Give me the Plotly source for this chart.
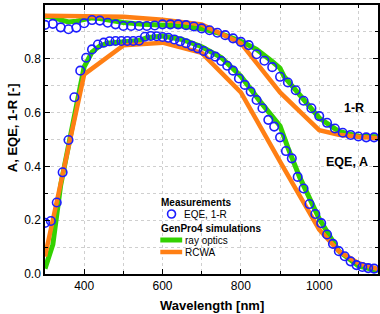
import plotly.graph_objects as go

# Measurements
eqe_wl = list(range(300, 1141, 15))
eqe_meas = [0.190, 0.197, 0.266, 0.378, 0.498, 0.657, 0.756, 0.804, 0.835, 0.853,
            0.860, 0.865, 0.866, 0.866, 0.866, 0.866, 0.867, 0.882, 0.885, 0.884,
            0.881, 0.878, 0.872, 0.865, 0.858, 0.848, 0.839, 0.829, 0.817, 0.808,
            0.792, 0.774, 0.756, 0.727, 0.703, 0.678, 0.647, 0.616, 0.573, 0.548,
            0.508, 0.457, 0.430, 0.361, 0.318, 0.260, 0.223, 0.189, 0.147, 0.112,
            0.085, 0.066, 0.047, 0.033, 0.026, 0.022, 0.020]
r_wl = list(range(300, 1141, 20))
one_minus_r_meas = [0.926, 0.930, 0.917, 0.910, 0.916, 0.932, 0.944, 0.942, 0.934, 0.928,
                    0.922, 0.922, 0.922, 0.922, 0.924, 0.928, 0.928, 0.928, 0.925, 0.920,
                    0.913, 0.906, 0.897, 0.888, 0.876, 0.863, 0.851, 0.817, 0.793, 0.769,
                    0.733, 0.712, 0.683, 0.644, 0.616, 0.587, 0.562, 0.541, 0.525, 0.517,
                    0.511, 0.508, 0.508, 0.510]

# GenPro4 ray optics
ray_wl_a = [300, 320, 340, 360, 380, 400, 420, 440, 460, 500, 540, 560, 600, 650, 700,
            750, 800, 850, 880, 900, 920, 950, 1000, 1050, 1100, 1150]
ray_a = [0.02, 0.11, 0.33, 0.47, 0.62, 0.77, 0.825, 0.848, 0.858, 0.865, 0.868, 0.878,
         0.885, 0.872, 0.845, 0.805, 0.735, 0.64, 0.59, 0.55, 0.47, 0.36, 0.205, 0.085,
         0.03, 0.012]
ray_wl_r = [300, 320, 340, 360, 380, 400, 420, 440, 460, 480, 500, 550, 600, 650, 700,
            750, 800, 840, 880, 900, 910, 950, 1000, 1050, 1100, 1150]
ray_r = [0.958, 0.955, 0.945, 0.937, 0.940, 0.948, 0.952, 0.950, 0.945, 0.940, 0.935,
         0.928, 0.925, 0.922, 0.912, 0.893, 0.865, 0.835, 0.790, 0.765, 0.735, 0.665,
         0.58, 0.53, 0.512, 0.510]

# GenPro4 RCWA
rcwa_wl = [300, 400, 500, 600, 700, 800, 900, 1000, 1050, 1100, 1150]
rcwa_a = [0.065, 0.742, 0.850, 0.860, 0.822, 0.675, 0.418, 0.165, 0.085, 0.040, 0.018]
rcwa_r = [0.960, 0.960, 0.956, 0.945, 0.928, 0.858, 0.675, 0.535, 0.518, 0.510, 0.505]

GREEN = "#33d100"
ORANGE = "#ff7f14"
BLUE = "#1c1cff"

fig = go.Figure()
fig.add_trace(go.Scatter(x=ray_wl_a, y=ray_a, mode="lines", line=dict(color=GREEN, width=5)))
fig.add_trace(go.Scatter(x=ray_wl_r, y=ray_r, mode="lines", line=dict(color=GREEN, width=5)))
fig.add_trace(go.Scatter(x=rcwa_wl, y=rcwa_a, mode="lines", line=dict(color=ORANGE, width=4.5)))
fig.add_trace(go.Scatter(x=rcwa_wl, y=rcwa_r, mode="lines", line=dict(color=ORANGE, width=4.5)))
for xs, ys in [(eqe_wl, eqe_meas), (r_wl, one_minus_r_meas)]:
    fig.add_trace(go.Scatter(x=xs, y=ys, mode="markers", cliponaxis=True,
                             marker=dict(symbol="circle-open", size=8.5, color=BLUE,
                                         line=dict(width=1.6, color=BLUE))))

L, R, T, B = 45, 0, 5, 40
W, H = 380, 314
pw, ph = W - L - R, H - T - B

def px(xp):
    return (xp - L) / pw

def py(yp):
    return (H - B - yp) / ph

tick_font = dict(family="Liberation Sans, Arial", size=12, color="black")
axis_common = dict(showline=True, linecolor="black", linewidth=1.5, mirror="allticks",
                   ticks="inside", ticklen=5, tickwidth=1.2, tickcolor="black",
                   showgrid=True, gridcolor="#cfcfcf", griddash="dot", gridwidth=1,
                   zeroline=False, tickfont=tick_font)
fig.update_xaxes(range=[300, 1150], dtick=200, tick0=400,
                 minor=dict(dtick=100, tick0=300, ticks="inside", ticklen=3, tickcolor="black",
                            showgrid=True, gridcolor="#cfcfcf", griddash="dot"),
                 **axis_common)
fig.update_yaxes(range=[0, 1.0], dtick=0.2, tickformat=".1f",
                 minor=dict(dtick=0.1, ticks="inside", ticklen=3, tickcolor="black",
                            showgrid=True, gridcolor="#cfcfcf", griddash="dot"),
                 **axis_common)

ann = []
bold = dict(family="Liberation Sans, Arial", color="black")
ann.append(dict(x=0.5, y=py(305), xref="paper", yref="paper", text="<b>Wavelength [nm]</b>",
                showarrow=False, font=dict(size=13, **bold), xanchor="center", yanchor="middle"))
ann.append(dict(x=px(12), y=py(128), xref="paper", yref="paper", text="<b>A, EQE, 1-R [-]</b>",
                showarrow=False, textangle=-90, font=dict(size=13, **bold),
                xanchor="center", yanchor="middle"))
ann.append(dict(x=px(368), y=py(108), xref="paper", yref="paper", text="<b>1-R</b>",
                showarrow=False, font=dict(size=12.5, **bold), xanchor="right", yanchor="middle"))
ann.append(dict(x=px(372), y=py(162), xref="paper", yref="paper", text="<b>EQE, A</b>",
                showarrow=False, font=dict(size=12.5, **bold), xanchor="right", yanchor="middle"))
# custom legend
lf = dict(family="Liberation Sans, Arial", color="black", size=10)
ann.append(dict(x=px(160), y=py(203), xref="paper", yref="paper", text="<b>Measurements</b>",
                showarrow=False, font=lf, xanchor="left", yanchor="middle"))
ann.append(dict(x=px(183), y=py(214), xref="paper", yref="paper", text="EQE, 1-R",
                showarrow=False, font=lf, xanchor="left", yanchor="middle"))
ann.append(dict(x=px(160), y=py(228), xref="paper", yref="paper", text="<b>GenPro4 simulations</b>",
                showarrow=False, font=lf, xanchor="left", yanchor="middle"))
ann.append(dict(x=px(184), y=py(240), xref="paper", yref="paper", text="ray optics",
                showarrow=False, font=lf, xanchor="left", yanchor="middle"))
ann.append(dict(x=px(184), y=py(252), xref="paper", yref="paper", text="RCWA",
                showarrow=False, font=lf, xanchor="left", yanchor="middle"))

shapes = [
    dict(type="circle", xref="paper", yref="paper", x0=px(168.3), x1=px(176.3),
         y0=py(218), y1=py(210), line=dict(color=BLUE, width=1.6)),
    dict(type="line", xref="paper", yref="paper", x0=px(161), x1=px(183), y0=py(240), y1=py(240),
         line=dict(color=GREEN, width=5)),
    dict(type="line", xref="paper", yref="paper", x0=px(161), x1=px(183), y0=py(252), y1=py(252),
         line=dict(color=ORANGE, width=4.5)),
]

fig.update_layout(width=W, height=H, margin=dict(l=L, r=R, t=T, b=B),
                  plot_bgcolor="white", paper_bgcolor="white", showlegend=False,
                  annotations=ann, shapes=shapes)
fig.write_html("out.html")
